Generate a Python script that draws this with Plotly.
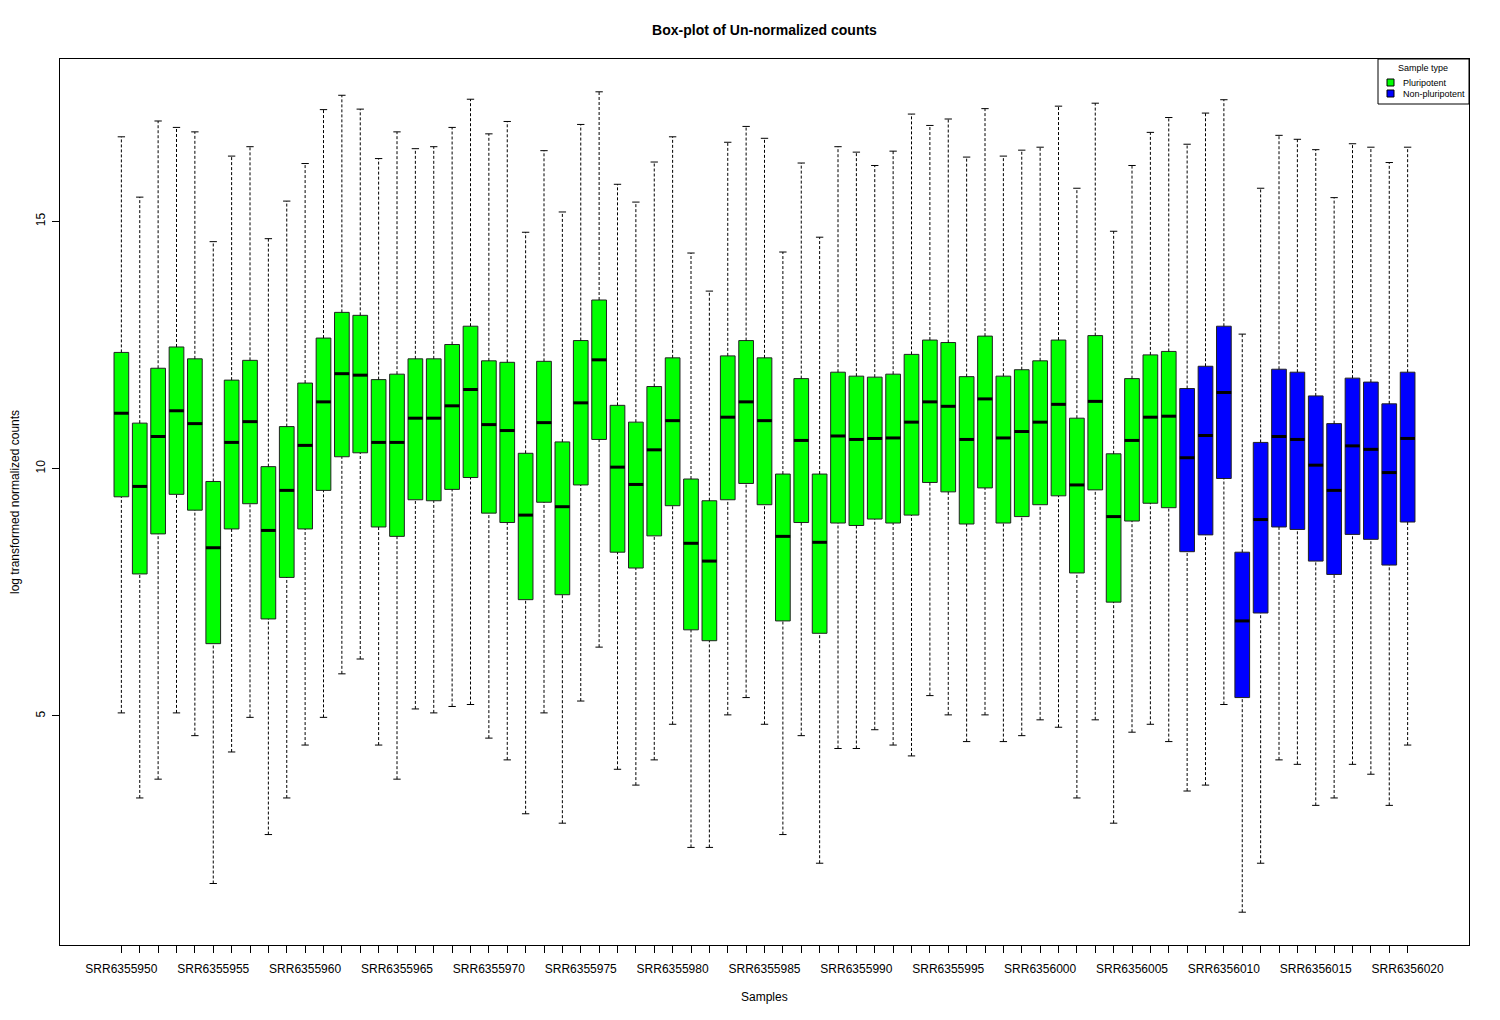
import plotly.graph_objects as go

samples = ["SRR6355950", "SRR6355951", "SRR6355952", "SRR6355953", "SRR6355954",
           "SRR6355955", "SRR6355956", "SRR6355957", "SRR6355958", "SRR6355959",
           "SRR6355960", "SRR6355961", "SRR6355962", "SRR6355963", "SRR6355964",
           "SRR6355965", "SRR6355966", "SRR6355967", "SRR6355968", "SRR6355969",
           "SRR6355970", "SRR6355971", "SRR6355972", "SRR6355973", "SRR6355974",
           "SRR6355975", "SRR6355976", "SRR6355977", "SRR6355978", "SRR6355979",
           "SRR6355980", "SRR6355981", "SRR6355982", "SRR6355983", "SRR6355984",
           "SRR6355985", "SRR6355986", "SRR6355987", "SRR6355988", "SRR6355989",
           "SRR6355990", "SRR6355991", "SRR6355992", "SRR6355993", "SRR6355994",
           "SRR6355995", "SRR6355996", "SRR6355997", "SRR6355998", "SRR6355999",
           "SRR6356000", "SRR6356001", "SRR6356002", "SRR6356003", "SRR6356004",
           "SRR6356005", "SRR6356006", "SRR6356007", "SRR6356008", "SRR6356009",
           "SRR6356010", "SRR6356011", "SRR6356012", "SRR6356013", "SRR6356014",
           "SRR6356015", "SRR6356016", "SRR6356017", "SRR6356018", "SRR6356019",
           "SRR6356020"]

sample_type = ["Pluripotent"] * 58 + ["Non-pluripotent"] * 13

upper = [16.71, 15.49, 17.03, 16.90, 16.81, 14.59, 16.32, 16.51, 14.65, 15.41,
         16.17, 17.26, 17.55, 17.27, 16.27, 16.81, 16.47, 16.51, 16.90, 17.47,
         16.77, 17.02, 14.78, 16.43, 15.19, 16.96, 17.62, 15.75, 15.39, 16.20,
         16.71, 14.36, 13.59, 16.60, 16.92, 16.68, 14.38, 16.18, 14.68, 16.51,
         16.40, 16.13, 16.42, 17.17, 16.94, 17.07, 16.30, 17.28, 16.32, 16.44,
         16.50, 17.33, 15.67, 17.39, 14.80, 16.13, 16.80, 17.10, 16.56, 17.19,
         17.46, 12.72, 15.67, 16.74, 16.66, 16.45, 15.48, 16.57, 16.50, 16.19,
         16.50]
q3 = [12.35, 10.92, 12.03, 12.46, 12.22, 9.74, 11.79, 12.19, 10.04, 10.85,
      11.73, 12.64, 13.16, 13.10, 11.80, 11.91, 12.22, 12.22, 12.51, 12.88,
      12.18, 12.15, 10.31, 12.17, 10.54, 12.59, 13.41, 11.28, 10.94, 11.66,
      12.24, 9.79, 9.35, 12.28, 12.59, 12.24, 9.89, 11.82, 9.89, 11.95,
      11.87, 11.85, 11.91, 12.31, 12.60, 12.55, 11.86, 12.68, 11.87, 12.00,
      12.18, 12.60, 11.02, 12.69, 10.30, 11.82, 12.30, 12.37, 11.62, 12.07,
      12.88, 8.31, 10.53, 12.01, 11.95, 11.47, 10.91, 11.83, 11.75, 11.31,
      11.95]
median = [11.12, 9.64, 10.65, 11.17, 10.91, 8.40, 10.53, 10.95, 8.75, 9.56,
          10.47, 11.35, 11.92, 11.89, 10.53, 10.53, 11.02, 11.02, 11.27, 11.60,
          10.89, 10.77, 9.06, 10.93, 9.23, 11.33, 12.20, 10.03, 9.68, 10.38,
          10.97, 8.49, 8.13, 11.04, 11.35, 10.97, 8.63, 10.57, 8.51, 10.66,
          10.59, 10.61, 10.62, 10.94, 11.35, 11.26, 10.59, 11.41, 10.62, 10.75,
          10.94, 11.30, 9.67, 11.36, 9.03, 10.57, 11.04, 11.06, 10.22, 10.67,
          11.54, 6.92, 8.97, 10.65, 10.59, 10.07, 9.56, 10.46, 10.39, 9.92,
          10.61]
q1 = [9.43, 7.87, 8.68, 9.48, 9.16, 6.46, 8.78, 9.29, 6.96, 7.80,
      8.78, 9.56, 10.24, 10.32, 8.82, 8.63, 9.37, 9.35, 9.58, 9.82,
      9.10, 8.91, 7.35, 9.32, 7.45, 9.67, 10.59, 8.31, 7.99, 8.64,
      9.25, 6.74, 6.52, 9.37, 9.70, 9.27, 6.92, 8.91, 6.67, 8.90,
      8.85, 8.98, 8.90, 9.06, 9.72, 9.53, 8.88, 9.61, 8.90, 9.03,
      9.27, 9.45, 7.89, 9.57, 7.30, 8.94, 9.30, 9.21, 8.32, 8.66,
      9.80, 5.37, 7.08, 8.82, 8.77, 8.13, 7.86, 8.67, 8.57, 8.05,
      8.92]
lower = [5.06, 3.34, 3.72, 5.06, 4.60, 1.61, 4.27, 4.97, 2.60, 3.34,
         4.41, 4.97, 5.85, 6.15, 4.41, 3.72, 5.14, 5.06, 5.19, 5.23,
         4.55, 4.11, 3.02, 5.06, 2.83, 5.30, 6.39, 3.92, 3.60, 4.11,
         4.83, 2.34, 2.34, 5.02, 5.37, 4.83, 2.60, 4.60, 2.02, 4.34,
         4.34, 4.72, 4.41, 4.19, 5.41, 5.02, 4.48, 5.02, 4.48, 4.60,
         4.92, 4.77, 3.34, 4.92, 2.83, 4.67, 4.83, 4.48, 3.48, 3.60,
         5.23, 1.03, 2.02, 4.11, 4.02, 3.19, 3.34, 4.02, 3.82, 3.19,
         4.41]

y_tick_vals = [5, 10, 15]
legend_types = ["Pluripotent", "Non-pluripotent"]
type_colors = {"Pluripotent": "#00FF00", "Non-pluripotent": "#0000FF"}

positions = list(range(1, len(samples) + 1))
tick_labels = [s if i % 5 == 0 else "" for i, s in enumerate(samples)]

BOX_W = 0.8
CAP_W = 0.2

fig = go.Figure()

# whiskers (dashed)
wx, wy = [], []
for p, lo, a, b, hi in zip(positions, lower, q1, q3, upper):
    wx += [p, p, None, p, p, None]
    wy += [lo, a, None, b, hi, None]
fig.add_trace(go.Scatter(x=wx, y=wy, mode="lines", showlegend=False, hoverinfo="skip",
                         line=dict(color="black", width=1, dash="3px,2px")))

# staples
cx, cy = [], []
for p, lo, hi in zip(positions, lower, upper):
    cx += [p - CAP_W, p + CAP_W, None, p - CAP_W, p + CAP_W, None]
    cy += [lo, lo, None, hi, hi, None]
fig.add_trace(go.Scatter(x=cx, y=cy, mode="lines", showlegend=False, hoverinfo="skip",
                         line=dict(color="black", width=1)))

# boxes
for t in legend_types:
    col = type_colors[t]
    idx = [i for i, s in enumerate(sample_type) if s == t]
    fig.add_trace(go.Bar(
        x=[positions[i] for i in idx],
        base=[q1[i] for i in idx],
        y=[q3[i] - q1[i] for i in idx],
        width=BOX_W,
        name=t,
        showlegend=False,
        marker=dict(color=col, line=dict(color="#222222", width=1)),
        hovertext=[samples[i] for i in idx],
    ))

# medians
mx, my = [], []
for p, m in zip(positions, median):
    mx += [p - BOX_W / 2, p + BOX_W / 2, None]
    my += [m, m, None]
fig.add_trace(go.Scatter(x=mx, y=my, mode="lines", showlegend=False, hoverinfo="skip",
                         line=dict(color="black", width=3)))

ymin, ymax = min(lower), max(upper)
ypad = 0.04 * (ymax - ymin)
n = len(samples)
xpad = 0.04 * n

font_family = "Liberation Sans, Arial, sans-serif"

# page offset of 8px (body margin) compensated in margins
W, H = 1500, 1020
L, R, T, B = 52, 39, 51, 83
PW, PH = W - L - R, H - T - B


def px(xpix):
    return (xpix - 8 - L) / PW


def py(ypix):
    return 1 - (ypix - 8 - T) / PH


# manual R-style legend
shapes = [dict(type="rect", xref="paper", yref="paper", x0=px(1378), x1=px(1469),
               y0=py(104), y1=py(59), line=dict(color="black", width=1),
               fillcolor="white", layer="above")]
annotations = [dict(text="Sample type", x=px(1423), y=py(68), xref="paper", yref="paper",
                    xanchor="center", yanchor="middle", showarrow=False,
                    font=dict(size=9))]
for k, t in enumerate(legend_types):
    yc = 82.5 + 11 * k
    shapes.append(dict(type="rect", xref="paper", yref="paper", x0=px(1387), x1=px(1394),
                       y0=py(yc + 3.5), y1=py(yc - 3.5), fillcolor=type_colors[t],
                       line=dict(color="black", width=1), layer="above"))
    annotations.append(dict(text=t, x=px(1401), y=py(yc), xref="paper", yref="paper",
                            xanchor="left", yanchor="middle", showarrow=False,
                            font=dict(size=9)))

annotations += [
    dict(text="Samples", x=0.5, y=0, xref="paper", yref="paper", yshift=-52,
         xanchor="center", yanchor="middle", showarrow=False, font=dict(size=12)),
    dict(text="log transformed normalized counts", x=0, y=0.5, xref="paper", yref="paper",
         xshift=-45, xanchor="center", yanchor="middle", textangle=-90,
         showarrow=False, font=dict(size=12)),
]

fig.update_layout(
    width=W, height=H,
    margin=dict(l=L, r=R, t=T, b=B),
    paper_bgcolor="white", plot_bgcolor="white",
    barmode="overlay",
    showlegend=False,
    font=dict(family=font_family, size=12, color="black"),
    title=dict(text="<b>Box-plot of Un-normalized counts</b>", x=0.5, xref="paper",
               y=1 - 22 / H, yref="container", yanchor="middle",
               font=dict(size=14, family=font_family, color="black")),
    xaxis=dict(range=[0.5 - xpad, n + 0.5 + xpad], tickmode="array", tickvals=positions,
               ticktext=tick_labels, tickangle=0, ticks="outside", ticklen=7, tickcolor="black",
               ticklabelstandoff=6,
               showline=True, linecolor="black", linewidth=1, mirror=True,
               showgrid=False, zeroline=False, tickfont=dict(size=12)),
    yaxis=dict(range=[ymin - ypad, ymax + ypad], tickmode="array", tickvals=y_tick_vals,
               ticktext=[str(v) for v in y_tick_vals], tickangle=-90, ticks="outside",
               ticklabelstandoff=2,
               ticklen=7, tickcolor="black", showline=True, linecolor="black", linewidth=1,
               mirror=True, showgrid=False, zeroline=False, tickfont=dict(size=12)),
    shapes=shapes,
    annotations=annotations,
)

fig.write_html("out.html")
